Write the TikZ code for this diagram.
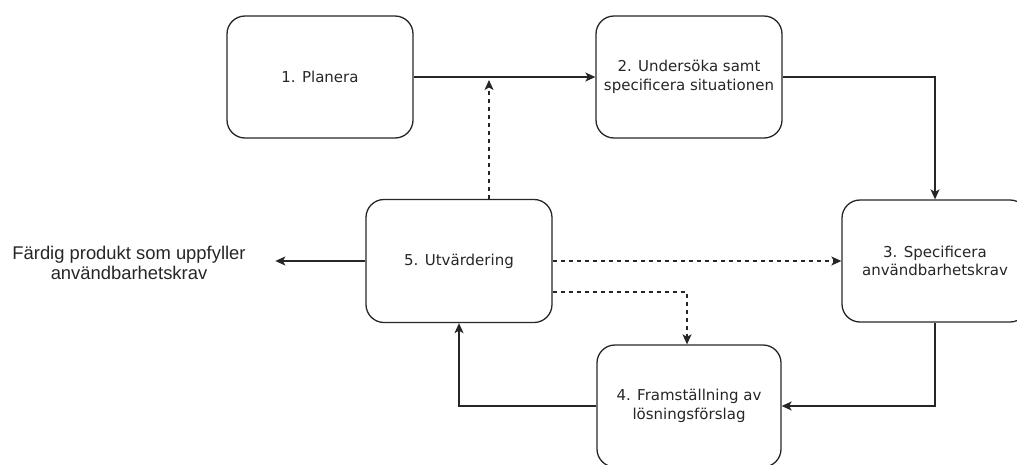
\documentclass[tikz,border=0pt]{standalone}
\usepackage{fontspec}
\setmainfont{DejaVu Sans}
\newfontfamily\labelfont{Liberation Sans}
\usetikzlibrary{arrows.meta}
\begin{document}
\begin{tikzpicture}[x=1pt,y=-1pt,
  stage/.style={draw=black!85, line width=1.3pt, rounded corners=18pt,
    minimum width=186pt, minimum height=122pt, align=center,
    inner sep=0pt, text=black!85,
    font=\fontsize{15}{18.5}\selectfont},
  flow/.style={draw=black!85, line width=1.3pt,
    -{Stealth[length=10pt,width=9pt,inset=2.5pt]}},
  hint/.style={flow, dash pattern=on 4pt off 4pt}]
\useasboundingbox (0,0) rectangle (1017,464);
\clip (0,0) rectangle (1017,464);

\node[stage] (plan)  at (320,77)  {1. Planera};
\node[stage] (study) at (689,77)  {2. Undersöka samt\\specificera situationen};
\node[stage] (req)   at (935,261) {3. Specificera\\användbarhetskrav};
\node[stage, minimum width=184pt] (proto) at (689,406) {4. Framställning av\\lösningsförslag};
\node[stage, minimum height=123pt] (eval)  at (459,261) {5. Utvärdering};

\node[align=center, text=black!85, font=\labelfont\fontsize{18.4}{20}\selectfont]
  (done) at (129,263) {Färdig produkt som uppfyller\\användbarhetskrav};

% main cycle
\draw[flow] (plan.east) -- (study.west);
\draw[flow] (study.east) -| (req.north);
\draw[flow] (req.south) |- (proto.east);
\draw[flow] (proto.west) -| (eval.south);
\draw[flow] (eval.west) -- ([xshift=-90pt]eval.west);

% feedback from evaluation
\coordinate (fb) at (489,80);
\draw[hint] ([xshift=30pt]eval.north) -- (fb);
\draw[hint] (eval.east) -- (req.west);
\draw[hint] ([yshift=-31pt]eval.east) -| ([xshift=-2pt]proto.north);
\end{tikzpicture}
\end{document}
